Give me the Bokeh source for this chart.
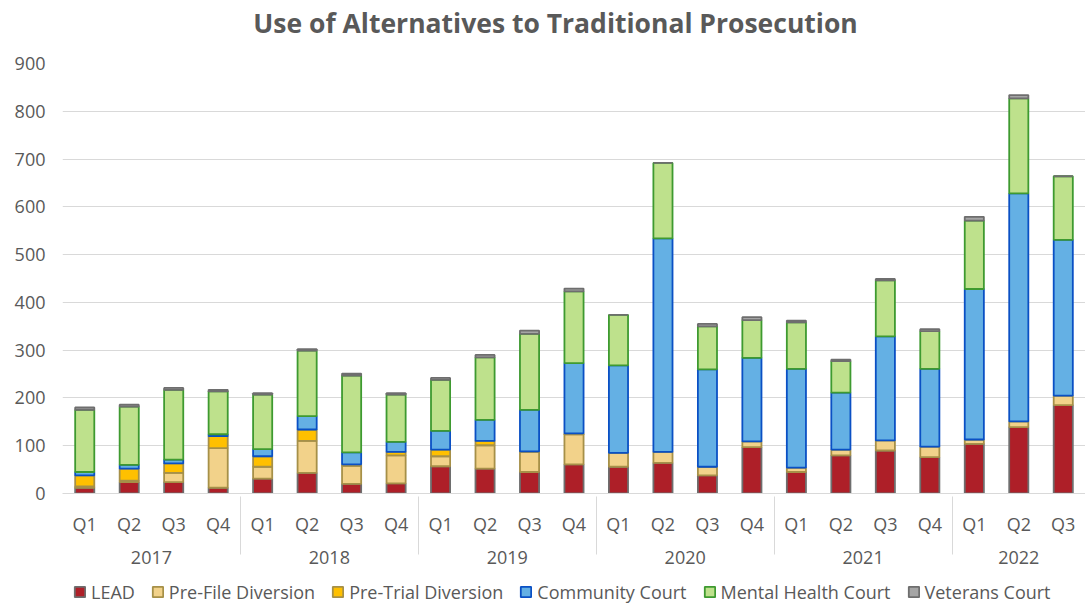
from bokeh.plotting import figure
from bokeh.layouts import column
from bokeh.models import FactorRange, Range1d, ColumnDataSource, Legend, LegendItem, SingleIntervalTicker
from bokeh.core.properties import value
from bokeh.embed import file_html
from bokeh.resources import INLINE

title_text = "Use of Alternatives to Traditional Prosecution"
years = ["2017", "2018", "2019", "2020", "2021", "2022"]
quarters = ["Q1", "Q2", "Q3", "Q4"]
factors = [(y, q) for y in years for q in quarters][:-1]

series_names = ["LEAD", "Pre-File Diversion", "Pre-Trial Diversion",
                "Community Court", "Mental Health Court", "Veterans Court"]

lead = [12, 24, 24, 12, 31, 43, 20, 21, 57, 52, 45, 61, 56, 64, 38, 97, 45, 80, 90, 76, 104, 139, 185]
pre_file = [3, 3, 19, 83, 25, 67, 38, 59, 21, 49, 42, 63, 29, 23, 18, 12, 9, 12, 21, 22, 9, 12, 20]
pre_trial = [23, 25, 20, 25, 22, 24, 3, 7, 14, 9, 1, 2, 0, 0, 0, 0, 0, 0, 0, 0, 0, 0, 0]
community = [7, 8, 8, 4, 15, 28, 25, 21, 39, 44, 87, 147, 183, 447, 204, 175, 207, 119, 218, 163, 315, 477, 326]
mental_health = [130, 122, 146, 90, 114, 137, 161, 99, 107, 131, 159, 150, 106, 158, 90, 79, 97, 66, 117, 79, 143, 199, 133]
veterans = [5, 4, 4, 3, 3, 3, 4, 3, 4, 5, 7, 6, 0, 0, 5, 6, 4, 3, 3, 4, 8, 7, 0]

fill_colors = ["#AE1F28", "#F2D28A", "#FFC000", "#64B0E4", "#BEE18C", "#A5A5A5"]
line_colors = ["#6E6E6E", "#A69048", "#A69048", "#0A50C4", "#3E9A30", "#6E6E6E"]

keys = ["lead", "pre_file", "pre_trial", "community", "mental_health", "veterans"]
source = ColumnDataSource(data=dict(
    x=factors, lead=lead, pre_file=pre_file, pre_trial=pre_trial,
    community=community, mental_health=mental_health, veterans=veterans))

FONT = "Open Sans"
GRAY = "#595959"
W = 1085
LEFT = 62
TITLE_H = 45

# ---- title strip (x range in screen pixels of the page) ----
tf = figure(width=W, height=TITLE_H, output_backend="svg", toolbar_location=None,
            x_range=Range1d(LEFT, W), y_range=Range1d(TITLE_H, 0),
            min_border_left=LEFT, min_border_right=0, min_border_top=0, min_border_bottom=0)
tf.axis.visible = False
tf.grid.visible = False
tf.outline_line_color = None
tf.text(x=[555], y=[22], text=[title_text], text_font=value(FONT), text_font_size="26.5px",
        text_font_style="bold", text_color=GRAY, text_align="center", text_baseline="middle")

# ---- main chart ----
p = figure(width=W, height=578 - TITLE_H, output_backend="svg", toolbar_location=None,
           x_range=FactorRange(*factors, range_padding=0, group_padding=0, factor_padding=0),
           y_range=Range1d(0, 900),
           min_border_left=LEFT, min_border_right=0, min_border_top=63 - TITLE_H, min_border_bottom=85)

renderers = p.vbar_stack(keys, x="x", width=0.43, source=source,
                         fill_color=fill_colors, line_color=line_colors, line_width=1.8)

p.outline_line_color = None
p.xgrid.grid_line_color = None
p.ygrid.grid_line_color = "#D9D9D9"
p.ygrid.grid_line_width = 1

p.yaxis.ticker = SingleIntervalTicker(interval=100)
p.yaxis.axis_line_color = None
p.yaxis.major_tick_line_color = None
p.yaxis.minor_tick_line_color = None
p.yaxis.major_label_text_font = FONT
p.yaxis.major_label_text_font_size = "18px"
p.yaxis.major_label_text_color = GRAY
p.yaxis.major_label_standoff = 11

p.xaxis.axis_line_color = "#D9D9D9"
p.xaxis.major_tick_line_color = None
p.xaxis.minor_tick_line_color = None
p.xaxis.major_label_text_font = FONT
p.xaxis.major_label_text_font_size = "18px"
p.xaxis.major_label_text_color = GRAY
p.xaxis.group_text_font = FONT
p.xaxis.group_text_font_size = "18px"
p.xaxis.group_text_color = GRAY
p.xaxis.group_text_font_style = "normal"
p.xaxis.separator_line_color = "#D9D9D9"
p.xaxis.separator_line_width = 1
p.xaxis.major_label_standoff = 12

# ---- legend strip below the chart (same data, renderers hidden) ----
lg = figure(width=W, height=27, output_backend="svg", toolbar_location=None,
            x_range=FactorRange(*factors), y_range=Range1d(-2000, -1000),
            min_border_left=LEFT, min_border_right=0, min_border_top=0, min_border_bottom=0)
lg.axis.visible = False
lg.grid.visible = False
lg.outline_line_color = None
leg_rs = lg.vbar_stack(keys, x="x", width=0.43, source=source,
                       fill_color=fill_colors, line_color=line_colors, line_width=1.8)
for r in leg_rs:
    r.visible = False
items = [LegendItem(label=n, renderers=[r]) for n, r in zip(series_names, leg_rs)]
legend = Legend(items=items, orientation="horizontal", location="left",
                label_text_font=FONT, label_text_font_size="18px", label_text_color=GRAY,
                glyph_width=13, glyph_height=13, spacing=16, label_standoff=5,
                inactive_fill_alpha=0,
                border_line_color=None, background_fill_alpha=0, padding=0, margin=11)
lg.add_layout(legend, "center")

layout = column(tf, p, lg, spacing=0)
open("out.html", "w").write(file_html(layout, INLINE))
